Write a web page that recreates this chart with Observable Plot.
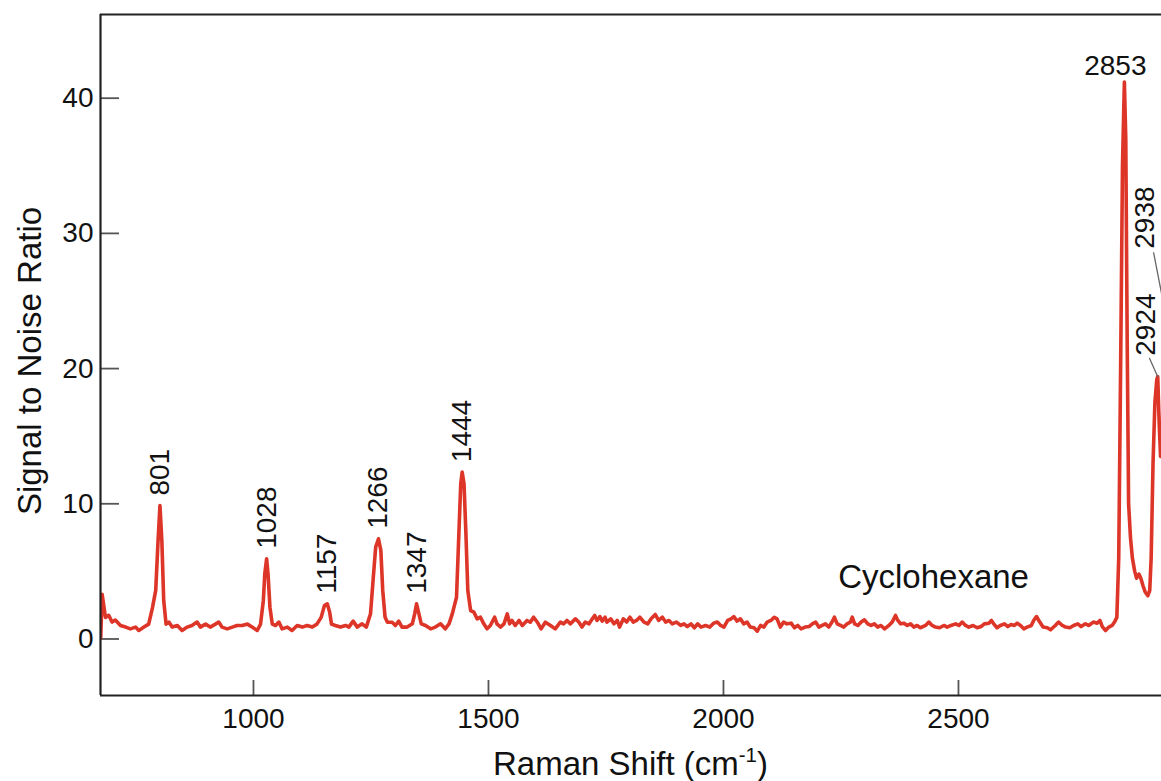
<!DOCTYPE html>
<html>
<head>
<meta charset="utf-8">
<script src="https://cdn.jsdelivr.net/npm/d3@7"></script>
<script src="https://cdn.jsdelivr.net/npm/@observablehq/plot@0.6"></script>
<style>
  html, body { margin: 0; padding: 0; background: #fff; overflow: hidden; }
  #wrap { position: relative; width: 1161px; height: 781px; font-family: "Liberation Sans", Arial, Helvetica, sans-serif; }
  #xtitle { position: absolute; left: 100px; width: 1061px; top: 745px; text-align: center; font-size: 33px; line-height: 38px; color: #111; }
  #xtitle sup { font-size: 0.62em; vertical-align: baseline; position: relative; top: -0.62em; line-height: 0; }
</style>
</head>
<body>
<div id="wrap"><div id="chart"></div><div id="xtitle">Raman Shift (cm<sup>-1</sup>)</div></div>
<script>
// Raman shift (cm^-1)
const shift = [
  675, 678, 685, 692, 699, 706, 717, 728, 738, 749, 756, 767, 777, 785, 792, 797, 801, 805, 809, 814,
  820, 827, 838, 848, 859, 869, 880, 887, 898, 908, 919, 926, 933, 944, 955, 965, 976, 987, 997, 1008,
  1015, 1021, 1024, 1028, 1031, 1035, 1040, 1047, 1054, 1061, 1072, 1082, 1093, 1104, 1114, 1125, 1135, 1144, 1151, 1157,
  1162, 1166, 1174, 1185, 1196, 1203, 1212, 1221, 1231, 1240, 1249, 1255, 1260, 1266, 1271, 1275, 1280, 1285, 1295, 1302,
  1309, 1316, 1327, 1338, 1343, 1347, 1352, 1357, 1366, 1377, 1387, 1398, 1408, 1416, 1423, 1432, 1437, 1441, 1444, 1448,
  1452, 1456, 1462, 1469, 1476, 1483, 1490, 1497, 1504, 1513, 1518, 1526, 1533, 1540, 1545, 1550, 1557, 1565, 1572, 1582,
  1589, 1596, 1604, 1612, 1621, 1632, 1642, 1653, 1660, 1667, 1674, 1685, 1692, 1699, 1706, 1714, 1721, 1726, 1731, 1737,
  1742, 1748, 1752, 1760, 1767, 1774, 1779, 1787, 1794, 1801, 1808, 1815, 1822, 1831, 1839, 1846, 1855, 1862, 1870, 1877,
  1884, 1891, 1900, 1909, 1916, 1923, 1931, 1938, 1945, 1952, 1962, 1971, 1979, 1987, 1994, 2001, 2009, 2016, 2022, 2029,
  2036, 2043, 2050, 2057, 2065, 2072, 2079, 2086, 2093, 2101, 2108, 2114, 2121, 2128, 2135, 2144, 2151, 2158, 2165, 2174,
  2182, 2189, 2196, 2203, 2210, 2217, 2224, 2231, 2236, 2242, 2249, 2256, 2263, 2270, 2274, 2279, 2286, 2293, 2300, 2307,
  2314, 2321, 2328, 2335, 2343, 2352, 2359, 2366, 2371, 2377, 2384, 2391, 2398, 2405, 2412, 2419, 2430, 2437, 2444, 2451,
  2460, 2469, 2476, 2484, 2494, 2501, 2508, 2515, 2522, 2531, 2540, 2548, 2555, 2565, 2570, 2575, 2582, 2589, 2598, 2605,
  2612, 2619, 2625, 2632, 2639, 2646, 2655, 2660, 2666, 2673, 2680, 2689, 2696, 2706, 2713, 2721, 2728, 2737, 2745, 2754,
  2761, 2770, 2777, 2787, 2795, 2801, 2806, 2813, 2820, 2827, 2832, 2837, 2841, 2845, 2849, 2853, 2856, 2859, 2862, 2866,
  2870, 2875, 2879, 2884, 2888, 2893, 2897, 2903, 2907, 2910, 2914, 2918, 2922, 2924, 2927, 2930, 2934, 2938, 2942
];
// Signal to noise ratio
const snr = [
  0.1, 3.3, 1.6, 1.75, 1.25, 1.4, 1.0, 0.88, 0.75, 0.88, 0.63, 0.88, 1.1, 2.3, 3.6, 7.3, 9.87, 7.3, 2.85, 1.1,
  1.25, 0.88, 1.0, 0.63, 0.88, 1.0, 1.25, 0.88, 1.1, 0.88, 1.1, 1.25, 0.88, 0.75, 0.88, 1.0, 1.0, 1.1, 0.88, 0.63,
  1.1, 2.85, 4.8, 5.93, 4.8, 2.35, 1.1, 1.0, 1.25, 0.75, 0.88, 0.63, 1.0, 0.88, 1.0, 0.88, 1.1, 1.6, 2.48, 2.6,
  2.0, 1.1, 1.0, 0.88, 1.0, 0.88, 1.32, 0.88, 1.12, 0.88, 1.86, 4.57, 6.79, 7.41, 6.55, 3.59, 1.61, 1.24, 1.24, 1.0,
  1.32, 0.88, 0.88, 1.12, 1.86, 2.6, 1.86, 1.12, 1.0, 0.75, 0.88, 1.12, 0.75, 1.12, 1.86, 3.09, 7.78, 11.48, 12.34, 11.48,
  7.78, 3.59, 2.1, 1.98, 1.49, 1.61, 1.12, 0.75, 1.0, 1.61, 1.12, 0.88, 1.12, 1.86, 1.12, 1.37, 1.0, 1.37, 1.0, 1.37,
  1.24, 1.61, 1.24, 0.75, 1.24, 1.0, 0.75, 1.25, 1.12, 1.37, 1.12, 1.49, 1.25, 0.88, 1.25, 1.12, 1.49, 1.74, 1.37, 1.66,
  1.32, 1.61, 1.25, 1.49, 1.12, 1.37, 0.88, 1.49, 1.25, 1.61, 1.25, 1.37, 1.61, 1.25, 1.12, 1.49, 1.81, 1.37, 1.61, 1.25,
  1.37, 1.12, 1.25, 1.0, 1.12, 0.92, 1.12, 0.83, 1.12, 0.88, 1.0, 0.88, 1.17, 1.25, 1.0, 0.88, 1.37, 1.49, 1.66, 1.32,
  1.49, 1.12, 1.25, 0.88, 0.83, 0.58, 1.0, 0.88, 1.25, 1.37, 1.61, 1.49, 0.88, 1.25, 1.12, 1.17, 0.83, 1.0, 0.75, 0.88,
  0.92, 1.12, 1.25, 0.88, 1.0, 1.12, 0.88, 1.25, 1.61, 1.12, 1.0, 0.88, 1.12, 1.25, 1.61, 1.12, 1.0, 1.25, 1.42, 1.12,
  1.0, 1.12, 0.88, 1.0, 0.75, 1.0, 1.25, 1.74, 1.37, 1.12, 1.17, 1.0, 1.12, 0.88, 1.0, 0.83, 1.0, 1.25, 1.0, 0.88,
  0.83, 1.0, 0.88, 1.0, 1.12, 1.0, 1.25, 1.0, 0.88, 1.0, 0.83, 0.92, 1.12, 1.17, 1.37, 1.12, 0.83, 1.0, 1.12, 0.92,
  1.07, 1.0, 1.17, 1.0, 0.75, 0.88, 1.0, 1.37, 1.66, 1.25, 0.88, 0.83, 0.68, 1.0, 1.25, 1.0, 0.88, 0.83, 1.0, 1.12,
  0.92, 1.12, 1.0, 1.25, 1.17, 1.37, 0.92, 0.63, 0.88, 1.0, 1.25, 1.6, 6.0, 20.0, 35.0, 41.2, 37.0, 22.0, 10.0, 7.5,
  6.0, 5.0, 4.5, 4.8, 4.5, 3.9, 3.5, 3.2, 3.6, 6.0, 13.0, 17.5, 19.2, 19.4, 16.0, 13.5, 15.0, 24.5, 20.0
];

// Peak annotations
const peakLabels = ["801", "1028", "1157", "1266", "1347", "1444", "2853", "2924", "2938"];
const peakShift = [801, 1028, 1157, 1266, 1347, 1444, 2853, 2924, 2938];
const peakSNR = [9.87, 5.93, 2.6, 7.41, 2.6, 12.34, 41.2, 19.4, 24.5];

const xTicks = [1000, 1500, 2000, 2500];
const yTicks = [0, 10, 20, 30, 40];
const xDomain = [674.5, 2932];
const yDomain = [-4.18, 46.19];
const sampleName = "Cyclohexane";
const sampleAt = {shift: 2447, snr: 4.52};
const yTitle = "Signal to Noise Ratio";

const data = shift.map((s, i) => ({shift: s, snr: snr[i]}));
const peaks = peakLabels.map((t, i) => ({label: t, shift: peakShift[i], snr: peakSNR[i]}));
const vertPeaks = peaks.slice(0, 6);
const topPeak = peaks.slice(6, 7);
const p2924 = peaks.slice(7, 8);
const p2938 = peaks.slice(8, 9);

const FONT = "Liberation Sans, Arial, Helvetica, sans-serif";
const leaderShape = {draw(context, l) { context.moveTo(0, 0); context.lineTo(0, -l); }};

const chart = Plot.plot({
  width: 1161,
  height: 740,
  marginLeft: 100,
  marginRight: 0,
  marginTop: 14,
  marginBottom: 45,
  style: {fontFamily: FONT, background: "#fff", color: "#111", overflow: "visible"},
  x: {domain: xDomain, label: null},
  y: {domain: yDomain, label: null},
  marks: [
    Plot.axisY({ticks: yTicks, tickSize: -19, tickPadding: 26, stroke: "#555", strokeWidth: 1.8, fill: "#111", fontSize: 28, label: null}),
    Plot.axisX({ticks: xTicks, tickSize: -15, tickPadding: 28, stroke: "#555", strokeWidth: 1.8, fill: "#111", fontSize: 28, tickFormat: "d", label: null}),
    Plot.line(data, {x: "shift", y: "snr", stroke: "#de3529", strokeWidth: 3.6, strokeLinejoin: "round", clip: true}),
    // frame: top, left, bottom (the right side is cut off)
    Plot.ruleY([yDomain[1]], {stroke: "#222", strokeWidth: 2.2}),
    Plot.ruleY([yDomain[0]], {stroke: "#222", strokeWidth: 2.2}),
    Plot.ruleX([xDomain[0]], {stroke: "#222", strokeWidth: 2.2}),
    // peak labels
    Plot.text(vertPeaks, {x: "shift", y: "snr", text: "label", rotate: -90, textAnchor: "start", lineAnchor: "middle", dy: -10, fontSize: 28, fill: "#111"}),
    Plot.text(topPeak, {x: "shift", y: "snr", text: "label", textAnchor: "middle", lineAnchor: "middle", dx: -9, dy: -16, fontSize: 28, fill: "#111"}),
    Plot.vector(p2924, {x: "shift", y: "snr", length: 20, rotate: -24, anchor: "start", shape: leaderShape, stroke: "#666", strokeWidth: 1.3}),
    Plot.text(p2924, {x: "shift", y: "snr", text: "label", rotate: -90, textAnchor: "start", lineAnchor: "middle", dx: -12, dy: -21, fontSize: 28, fill: "#111"}),
    Plot.vector(p2938, {x: "shift", y: "snr", length: 56, rotate: -11, anchor: "start", shape: leaderShape, stroke: "#666", strokeWidth: 1.3}),
    Plot.text(p2938, {x: "shift", y: "snr", text: "label", rotate: -90, textAnchor: "start", lineAnchor: "middle", dx: -19, dy: -59, fontSize: 28, fill: "#111"}),
    // sample name
    Plot.text([sampleAt], {x: "shift", y: "snr", text: () => sampleName, textAnchor: "middle", lineAnchor: "middle", fontSize: 33, fill: "#111"}),
    // y axis title
    Plot.text([yTitle], {text: d => d, frameAnchor: "left", rotate: -90, textAnchor: "middle", lineAnchor: "middle", dx: -70, dy: 6, fontSize: 33, fill: "#111"})
  ]
});
document.getElementById("chart").appendChild(chart);
</script>
</body>
</html>
